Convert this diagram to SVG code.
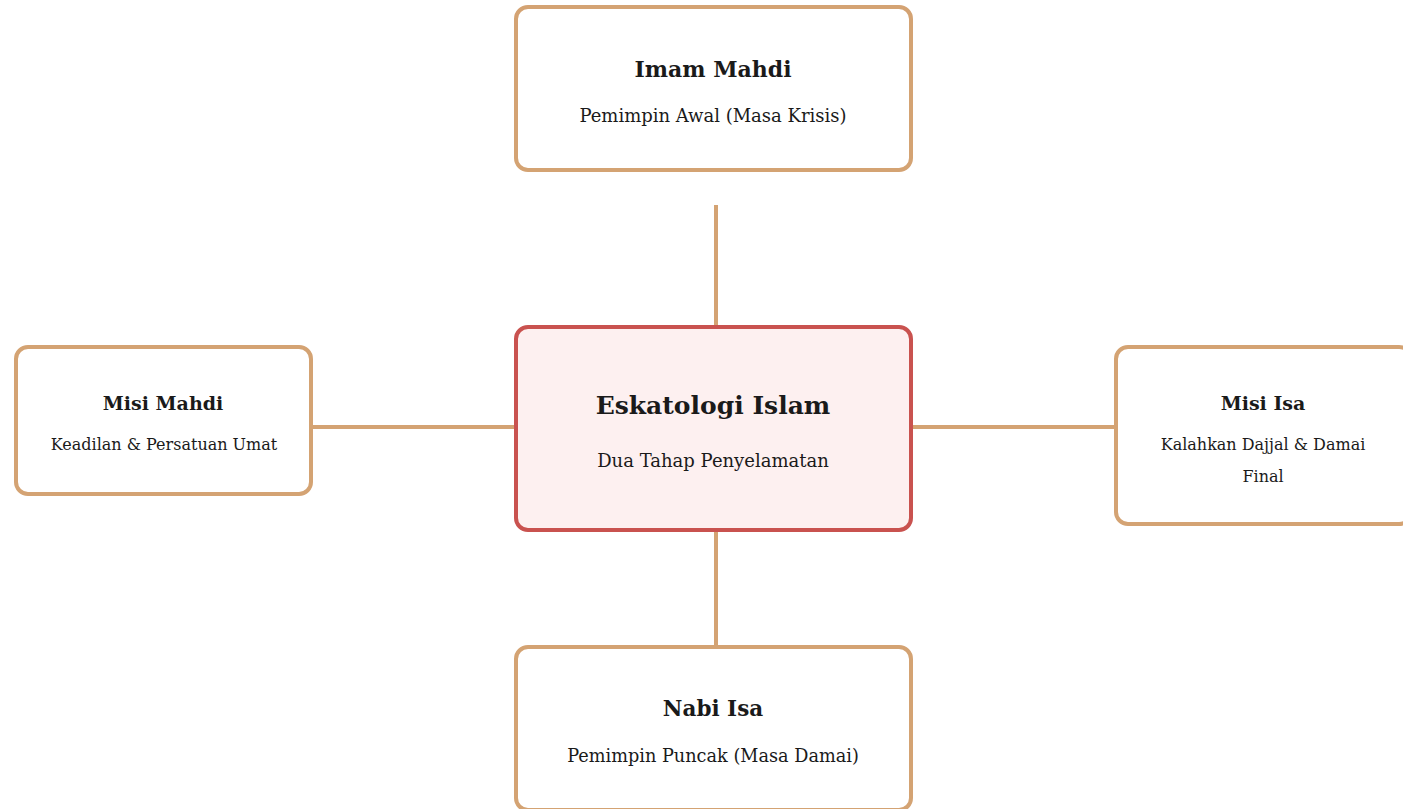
<svg xmlns="http://www.w3.org/2000/svg" width="1403" height="809" viewBox="0 0 1403 809">
<style>
.box{fill:#ffffff;stroke:#D4A373;stroke-width:4}
.core{fill:#FDF0F0;stroke:#C9524F;stroke-width:4}
.conn{stroke:#D4A373;stroke-width:4;fill:none}
text{font-family:"DejaVu Serif","Liberation Serif",serif;fill:#1a1a1a;text-anchor:middle}
.t{font-weight:bold}
</style>
<rect width="1403" height="809" fill="#ffffff"/>
<g id="connectors">
<line class="conn" x1="716" y1="205" x2="716" y2="327"/>
<line class="conn" x1="716" y1="530" x2="716" y2="647"/>
<line class="conn" x1="311" y1="427" x2="516" y2="427"/>
<line class="conn" x1="911" y1="427" x2="1116" y2="427"/>
</g>
<g id="imam-mahdi">
<rect class="box" x="516" y="7" width="395" height="163" rx="12"/>
<text class="t" x="713" y="77" font-size="22">Imam Mahdi</text>
<text x="713" y="122" font-size="18">Pemimpin Awal (Masa Krisis)</text>
</g>
<g id="eskatologi">
<rect class="core" x="516" y="327" width="395" height="203" rx="12"/>
<text class="t" x="713" y="414" font-size="25">Eskatologi Islam</text>
<text x="713" y="467" font-size="18">Dua Tahap Penyelamatan</text>
</g>
<g id="misi-mahdi">
<rect class="box" x="16" y="347" width="295" height="147" rx="12"/>
<text class="t" x="163" y="410" font-size="19">Misi Mahdi</text>
<text x="164" y="450" font-size="16">Keadilan &amp; Persatuan Umat</text>
</g>
<g id="misi-isa">
<rect class="box" x="1116" y="347" width="295" height="177" rx="12"/>
<text class="t" x="1263" y="410" font-size="19">Misi Isa</text>
<text x="1263" y="450" font-size="16">Kalahkan Dajjal &amp; Damai</text>
<text x="1263" y="482" font-size="16">Final</text>
</g>
<g id="nabi-isa">
<rect class="box" x="516" y="647" width="395" height="163" rx="12"/>
<text class="t" x="713" y="716" font-size="21.5">Nabi Isa</text>
<text x="713" y="762" font-size="17.7">Pemimpin Puncak (Masa Damai)</text>
</g>
</svg>
